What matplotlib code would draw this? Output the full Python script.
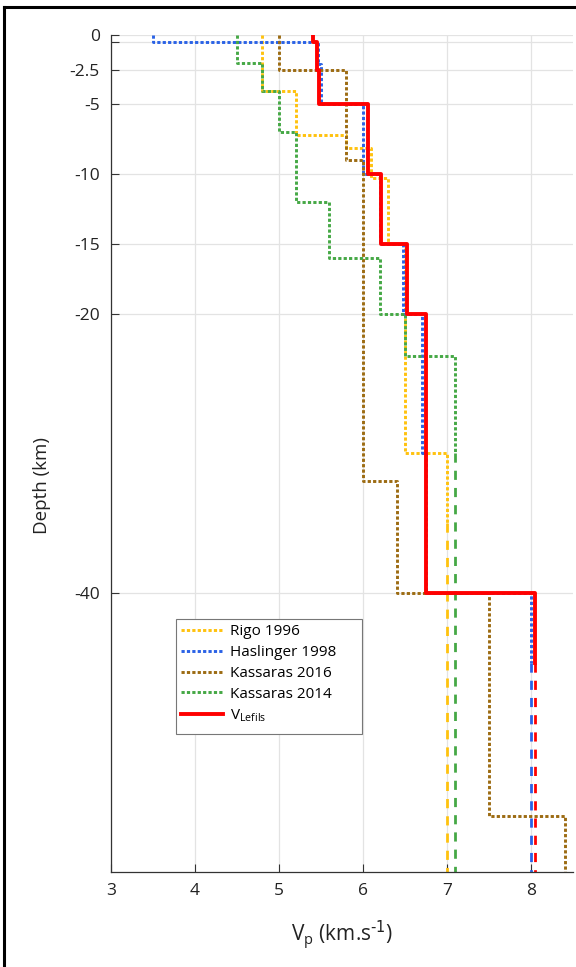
import matplotlib
matplotlib.use("Agg")
import matplotlib.pyplot as plt
from matplotlib.lines import Line2D
from matplotlib.patches import Rectangle

plt.rcParams['font.family'] = ['Open Sans', 'DejaVu Sans']

# layer boundaries (km, negative down) and P velocities (km/s)
rigo_z = [0, -4, -7.2, -8.1, -10.3, -15, -30, -35]
rigo_vp = [4.8, 5.2, 5.8, 6.1, 6.3, 6.5, 7.0]
rigo_ext = [-35, -60]

hasl_z = [0, -0.5, -2.1, -5, -10, -15, -20, -30, -40, -45]
hasl_vp = [3.5, 5.47, 5.5, 6.0, 6.2, 6.48, 6.7, 6.75, 8.0]
hasl_ext = [-45, -60]

kass16_z = [0, -2.5, -9, -32, -40, -56, -60]
kass16_vp = [5.0, 5.8, 6.0, 6.4, 7.5, 8.4]

kass14_z = [0, -2, -4, -7, -12, -16, -20, -23, -30]
kass14_vp = [4.5, 4.8, 5.0, 5.2, 5.6, 6.2, 6.5, 7.1]
kass14_ext = [-30, -60]

lefils_z = [0, -0.5, -2.5, -5, -10, -15, -20, -40, -45]
lefils_vp = [5.4, 5.45, 5.48, 6.06, 6.21, 6.52, 6.75, 8.05]
lefils_ext = [-45, -60]

yticks = [0, -0.5, -2.5, -5, -10, -15, -20, -40]
ytick_labels = ['0', '', '-2.5', '-5', '-10', '-15', '-20', '-40']
xticks = [3, 4, 5, 6, 7, 8]


def profile(z, vp):
    xs, ys = [], []
    for i, v in enumerate(vp):
        xs += [v, v]
        ys += [z[i], z[i + 1]]
    return xs, ys


c_rigo = '#FFC20E'
c_hasl = '#2A62E6'
c_k16 = '#9C6B12'
c_k14 = '#45A845'
c_lef = '#FF0000'
dot = (0, (1.1, 0.75))
dash = (0, (3.3, 2.9))

fig = plt.figure(figsize=(5.76, 9.67), dpi=100)
ax = fig.add_axes([111 / 576, 1 - 872.3 / 967, 462 / 576, 837.6 / 967])

x, y = profile(rigo_z, rigo_vp)
ax.plot(x, y, color=c_rigo, lw=2.1, ls=dot, label='Rigo 1996')
ax.plot([rigo_vp[-1]] * 2, rigo_ext, color=c_rigo, lw=2, ls=dash)

x, y = profile(hasl_z, hasl_vp)
ax.plot(x, y, color=c_hasl, lw=2.1, ls=dot, label='Haslinger 1998')
ax.plot([hasl_vp[-1]] * 2, hasl_ext, color=c_hasl, lw=2, ls=dash)

x, y = profile(kass16_z, kass16_vp)
ax.plot(x, y, color=c_k16, lw=2.1, ls=dot, label='Kassaras 2016')

x, y = profile(kass14_z, kass14_vp)
ax.plot(x, y, color=c_k14, lw=2.1, ls=dot, label='Kassaras 2014')
ax.plot([kass14_vp[-1]] * 2, kass14_ext, color=c_k14, lw=2, ls=dash)

x, y = profile(lefils_z, lefils_vp)
ax.plot(x, y, color=c_lef, lw=2.8, label=r'$\mathregular{V_{Lefils}}$')
ax.plot([lefils_vp[-1]] * 2, lefils_ext, color=c_lef, lw=2, ls=dash)

ax.set_xlim(3, 8.5)
ax.set_ylim(-60, 0)
ax.set_xticks(xticks)
ax.set_yticks(yticks)
ax.set_yticklabels(ytick_labels)
ax.grid(True, color='#e3e3e3', lw=0.9)
ax.set_axisbelow(True)
for s in ['top', 'right']:
    ax.spines[s].set_visible(False)
for s in ['left', 'bottom']:
    ax.spines[s].set_color('#333333')
    ax.spines[s].set_linewidth(0.9)
ax.tick_params(direction='in', length=6, width=0.8, color='#333333',
               labelsize=12.5, labelcolor='#222222', pad=8)

ax.set_xlabel(r'$\mathregular{V_p}$ (km.s$^{\text{-1}}$)', fontsize=15, color='#222222', labelpad=14)
ax.set_ylabel('Depth (km)', fontsize=13.5, color='#222222')
ax.yaxis.set_label_coords(-0.13, 0.462)

leg = ax.legend(loc='upper left', bbox_to_anchor=(0.1413, 0.3015), fontsize=11,
                frameon=False, handlelength=2.75, labelspacing=0.38,
                handletextpad=0.45, borderpad=0.3, borderaxespad=0)
leg.set_zorder(6)

# MATLAB-style legend box, a bit wider than its entries
box = Rectangle((176 / 576, 1 - 734 / 967), 186 / 576, 115 / 967, transform=fig.transFigure,
                facecolor='white', edgecolor='#777777', lw=0.8, zorder=5, clip_on=False)
ax.add_patch(box)

# frame around figure (left and top edges)
fig.add_artist(Line2D([4 / 576, 4 / 576], [0, 1 - 7 / 967], color='black', lw=2.2))
fig.add_artist(Line2D([4 / 576, 1], [1 - 7 / 967, 1 - 7 / 967], color='black', lw=2.2))

fig.savefig('out.png', dpi=100)
